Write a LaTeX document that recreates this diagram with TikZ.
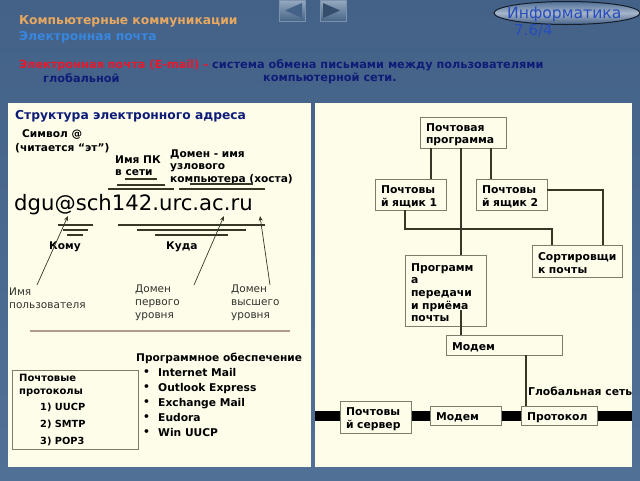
\documentclass[tikz,border=0pt]{standalone}
\usepackage{fontspec}
\setmainfont{DejaVu Sans}
\usepackage{xcolor}
\usepackage{tikz}
\usetikzlibrary{shapes.geometric, arrows.meta, positioning, calc}
\definecolor{slideblue}{RGB}{80, 112, 150}
\definecolor{slidedark}{RGB}{68, 98, 136}
\definecolor{panelcream}{RGB}{253, 253, 234}
\definecolor{boxborder}{RGB}{125, 125, 105}
\definecolor{linedark}{RGB}{55, 55, 40}
\definecolor{titleorange}{RGB}{232, 168, 96}
\definecolor{titleblue}{RGB}{56, 134, 222}
\definecolor{navytext}{RGB}{14, 28, 120}
\definecolor{redtext}{RGB}{232, 24, 44}
\definecolor{badgeblue}{RGB}{38, 76, 190}
\definecolor{badgegray}{RGB}{165, 180, 200}
\definecolor{softtext}{RGB}{50, 50, 45}
\definecolor{rulebrown}{RGB}{178, 155, 140}
\begin{document}
\begin{tikzpicture}[
  x=1pt, y=-1pt,
  panel/.style={rectangle, fill=panelcream, draw=none},
  lbl/.style={rectangle, inner sep=0pt, anchor=west, align=left, text=black},
  head/.style={lbl, font=\fontsize{12.3}{14}\selectfont\bfseries},
  lead/.style={lbl, font=\fontsize{11.3}{14}\selectfont\bfseries},
  note/.style={lbl, font=\fontsize{10.6}{12.5}\selectfont\bfseries},
  thin note/.style={lbl, text=softtext, font=\fontsize{10.5}{13}\selectfont},
  mailbox/.style={rectangle, draw=boxborder, line width=1pt, fill=panelcream, outer sep=0pt,
               inner xsep=6pt, inner ysep=2pt, text width=#1-12pt, minimum width=#1, align=left,
               execute at begin node={\rule{0pt}{12pt}},
               font=\fontsize{10.8}{12.7}\selectfont\bfseries},
  link/.style={draw=linedark, line width=1.4pt},
  rung/.style={draw=linedark, line width=1.1pt},
  pointer/.style={-{Stealth[length=5pt,width=4pt]}, draw=linedark, line width=0.7pt},
  navbtn/.style={rectangle, draw=slidedark!70!white, top color=slideblue!60!white, bottom color=slideblue!90!black,
        minimum width=26pt, minimum height=21pt, inner sep=0pt},
]
  \useasboundingbox (0,0) rectangle (640,480);
  \shade[top color=slidedark, bottom color=slideblue] (0,0) rectangle (640,480);

  % Buttons
  \node[navbtn] (backbtn) at (292,10.5) {};
  \node[navbtn] (nextbtn) at (333,10.5) {};
  \fill[slidedark] (302,3) -- (302,18) -- (285,10.5) -- cycle;
  \fill[slidedark!80!black] (323,3) -- (323,18) -- (340,10.5) -- cycle;

  % Badge
  \node[ellipse, draw=black!70!slidedark, line width=1pt, top color=slideblue, bottom color=slidedark, middle color=badgegray,
        minimum width=146pt, minimum height=23pt, inner sep=0pt] (badge) at (567,13) {};
  \node[lbl, text=badgeblue, font=\fontsize{15.6}{17}\selectfont] (subject) at (507,14) {Информатика};
  \node[lbl, text=badgeblue, font=\fontsize{15}{17}\selectfont] (slidenum) at (514,31) {7.6/4};

  % Header
  \node[head, text=titleorange] (topic) at (19,21) {Компьютерные коммуникации};
  \node[head, text=titleblue] (subtopic) at (19,37) {Электронная почта};
  \node[lead, text=redtext] (term) at (19,65) {Электронная почта (E-mail) –};
  \node[lead, text=navytext, right=3pt of term] (defa) {система обмена письмами между пользователями};
  \node[lead, text=navytext] (defb) at (43,78) {глобальной};
  \node[lead, text=navytext] (defc) at (263,78) {компьютерной сети.};

  % Panels
  \node[panel, minimum width=303pt, minimum height=364pt, inner sep=0pt] (leftpanel) at (159.5,285) {};
  \node[panel, minimum width=317pt, minimum height=364pt, inner sep=0pt] (rightpanel) at (473.5,285) {};

  % Address zone
  \node[head, text=navytext] (addrtitle) at (15,116.5) {Структура электронного адреса};
  \node[note] (atsign) at (22,134) {Символ @};
  \node[note] (atread) at (15,148) {(читается “эт”)};
  \node[note] (pcname) at (115,165.5) {Имя ПК\\в сети};
  \node[note] (domain) at (170,167) {Домен - имя\\узлового\\компьютера (хоста)};
  \node[lbl, font=\fontsize{21.2}{24}\selectfont] (address) at (14,205) {dgu@sch142.urc.ac.ru};
  \node[note] (whom) at (49,246.5) {Кому};
  \node[note] (where) at (166,246.5) {Куда};

  \coordinate (ua) at (125,179); \coordinate (ub) at (157,179);
  \coordinate (uc) at (117,185); \coordinate (ud) at (165,185);
  \coordinate (ue) at (108,189); \coordinate (uf) at (174,189);
  \coordinate (ug) at (179,189); \coordinate (uh) at (265,189);
  \coordinate (ui) at (190,184); \coordinate (uj) at (253,184);
  \draw[rung] (ua) -- (ub);
  \draw[rung] (uc) -- (ud);
  \draw[rung] (ue) -- (uf);
  \draw[rung] (ug) -- (uh);
  \draw[rung] (ui) -- (uj);
  \coordinate (la) at (58,225); \coordinate (lb) at (93,225);
  \coordinate (lc) at (63,230); \coordinate (ld) at (88,230);
  \coordinate (le) at (67,235); \coordinate (lf) at (83,235);
  \coordinate (lg) at (118,225); \coordinate (lh) at (265,225);
  \coordinate (li) at (137,230); \coordinate (lj) at (246,230);
  \coordinate (lk) at (155,235); \coordinate (ll) at (228,235);
  \draw[rung] (la) -- (lb);
  \draw[rung] (lc) -- (ld);
  \draw[rung] (le) -- (lf);
  \draw[rung] (lg) -- (lh);
  \draw[rung] (li) -- (lj);
  \draw[rung] (lk) -- (ll);

  \node[thin note] (username) at (9,298.5) {Имя\\пользователя};
  \node[thin note] (dom1) at (135,303) {Домен\\первого\\уровня};
  \node[thin note] (dom2) at (231,303) {Домен\\высшего\\уровня};

  \coordinate (ptra) at (37,285); \coordinate (ptrb) at (68,216);
  \coordinate (ptrc) at (194,285); \coordinate (ptrd) at (224,216);
  \coordinate (ptre) at (270,285); \coordinate (ptrf) at (260,216);
  \draw[pointer] (ptra) -- (ptrb);
  \draw[pointer] (ptrc) -- (ptrd);
  \draw[pointer] (ptre) -- (ptrf);

  \coordinate (rulea) at (30,331); \coordinate (ruleb) at (290,331);
  \draw[draw=rulebrown, line width=1.3pt] (rulea) -- (ruleb);

  % Software and protocols
  \node[note] (softtitle) at (136,358) {Программное обеспечение};
  \node[note, font=\fontsize{10.7}{15}\selectfont\bfseries] (softdots) at (143,403) {•\\•\\•\\•\\•};
  \node[note, font=\fontsize{10.7}{15}\selectfont\bfseries] (softlist) at (158,403)
    {Internet Mail\\Outlook Express\\Exchange Mail\\Eudora\\Win UUCP};
  \node[rectangle, draw=boxborder, line width=1pt, fill=panelcream, outer sep=0pt,
        minimum width=126pt, minimum height=79pt] (protobox) at (75,409.5) {};
  \node[note, font=\fontsize{10}{13}\selectfont\bfseries] (prototitle) at (19,385.5) {Почтовые\\протоколы};
  \node[note, font=\fontsize{9.8}{17}\selectfont\bfseries] (protolist) at (40,424.5) {1) UUCP\\2) SMTP\\3) POP3};

  % Network line
  \coordinate (neta) at (315,416); \coordinate (netb) at (632,416);
  \draw[draw=black, line width=10pt] (neta) -- (netb);

  % Mail flow
  \node[mailbox=86pt, minimum height=31pt] (prog) at (463,132.5) {Почтовая\\программа};
  \node[mailbox=71pt, minimum height=31pt, below=31pt of prog, xshift=-52.5pt] (box1) {Почтовы\\й ящик 1};
  \node[mailbox=71pt, minimum height=31pt, below=31pt of prog, xshift=48.5pt] (box2) {Почтовы\\й ящик 2};
  \node[mailbox=90pt, minimum height=32pt, below=35pt of box2, xshift=65.5pt] (sorter) {Сортировщи\\к почты};
  \node[mailbox=81pt, minimum height=71pt, below=45pt of box1, xshift=35pt, execute at begin node=] (transfer) {Программ\\а\\передачи\\и приёма\\почты};
  \node[mailbox=116pt, minimum height=20pt, below=9pt of transfer, xshift=58.5pt] (modema) {Модем};
  \node[mailbox=76pt, minimum height=19pt, below=51pt of modema, xshift=55pt] (protocol) {Протокол};
  \node[mailbox=71pt, minimum height=19pt, left=20pt of protocol] (modemb) {Модем};
  \node[mailbox=71pt, minimum height=32pt, left=19pt of modemb, yshift=-1.5pt] (server) {Почтовы\\й сервер};
  \node[note, font=\fontsize{10.8}{12}\selectfont\bfseries] (globalnet) at (528,391) {Глобальная сеть};

  \coordinate (bend1) at ($(box1.south)+(-5.5,19)$);
  \draw[link] ([xshift=-32pt]prog.south) -- ([xshift=20.5pt]box1.north);
  \draw[link] ([xshift=28pt]prog.south) -- ([xshift=-20.5pt]box2.north);
  \draw[link] ([xshift=-2pt]prog.south) -- ([xshift=15.5pt]transfer.north);
  \draw[link] ([xshift=-5.5pt]box1.south) -- (bend1) -| ([xshift=-25pt]sorter.north);
  \draw[link] ([yshift=4.5pt]box2.east) -| ([xshift=26pt]sorter.north);
  \draw[link] ([xshift=15.5pt,yshift=16pt]transfer.south) -- ([xshift=-43pt]modema.north);
  \draw[link] ([xshift=22pt]modema.south) -- ([xshift=-33pt]protocol.north);
\end{tikzpicture}
\end{document}
